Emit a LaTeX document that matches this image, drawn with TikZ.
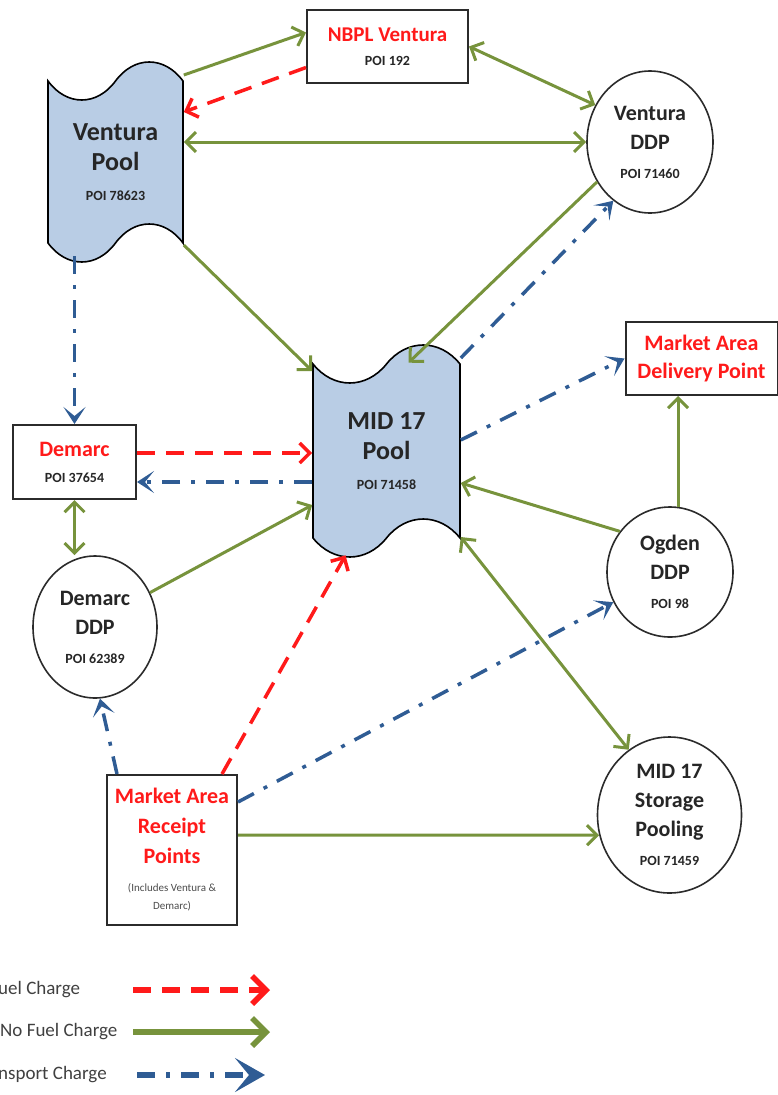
\documentclass[tikz,border=0pt]{standalone}
\usepackage{fontspec}
\setmainfont{Carlito}
\usetikzlibrary{shapes.symbols,shapes.geometric,arrows.meta}
\definecolor{nofuel}{HTML}{77933C}
\definecolor{fuel}{HTML}{FF1A1A}
\definecolor{transport}{HTML}{2F5C94}
\definecolor{poolfill}{HTML}{B9CDE5}
\definecolor{outline}{HTML}{2B2B2B}
\definecolor{legendtext}{HTML}{404040}
\newcommand{\poi}[1]{{\fontsize{14}{16}\selectfont\color{black!85}POI #1}}
\tikzset{
    pool-tape/.style = {draw=black, fill=poolfill, line width=1.6pt, tape, tape bend height=38pt, align=center, font=\fontsize{26}{30}\selectfont\bfseries, text=black!85},
    point-box/.style = {draw=outline, fill=white, line width=2pt, rectangle, align=center, font=\fontsize{22}{28}\selectfont\bfseries, text=fuel},
    ddp-circle/.style = {draw=outline, fill=white, line width=1.6pt, ellipse, inner sep=0pt, align=center, font=\fontsize{22}{29}\selectfont\bfseries, text=black!85},
    legend-text/.style = {anchor=west, inner sep=0pt, text=legendtext, font=\fontsize{19}{22}\selectfont},
    fuel-arrow/.style = {draw=fuel, line width=3.5pt, dash pattern=on 18pt off 11pt, >={Straight Barb[length=10pt,width=20pt]}, ->},
    nofuel-arrow/.style = {draw=nofuel, line width=3pt, >={Straight Barb[length=10pt,width=20pt]}, ->},
    transport-arrow/.style = {draw=transport, line width=3.5pt, dash pattern=on 18pt off 11pt on 4pt off 11pt, >={Stealth[length=17pt,width=22pt,inset=9pt]}, ->},
}

\begin{document}
\begin{tikzpicture}[x=1pt,y=-1pt]
\useasboundingbox (0,0) rectangle (778,1095);

% pools
\node[pool-tape, minimum width=135pt, minimum height=200pt] (vpool) at (115.5,162) {Ventura\\Pool\\\poi{78623}};
\node[pool-tape, minimum width=147pt, minimum height=212pt] (mpool) at (386.5,451) {MID 17\\Pool\\\poi{71458}};

% points
\node[point-box, minimum width=161pt, minimum height=73pt, font=\fontsize{21}{24}\selectfont\bfseries] (nbpl) at (387.5,46.5) {NBPL Ventura\\\poi{192}};
\node[point-box, minimum width=152pt, minimum height=73pt] (madp) at (701.5,358.5) {Market Area\\Delivery Point};
\node[point-box, minimum width=123pt, minimum height=74pt, font=\fontsize{22}{26}\selectfont\bfseries] (demarc) at (74.5,462) {Demarc\\\poi{37654}};
\node[point-box, minimum width=130pt, minimum height=150pt, font=\fontsize{22}{30}\selectfont\bfseries] (rcpt) at (172,850) {Market Area\\Receipt\\Points\\[-2pt]{\fontsize{11}{13}\selectfont\mdseries\color{black!70}(Includes Ventura \&}\\[-12pt]{\fontsize{11}{13}\selectfont\mdseries\color{black!70}Demarc)}};

% delivery points
\node[ddp-circle, minimum width=126pt, minimum height=142pt] (vddp) at (650,142) {Ventura\\DDP\\\poi{71460}};
\node[ddp-circle, minimum width=124pt, minimum height=142pt] (dddp) at (95,627) {Demarc\\DDP\\\poi{62389}};
\node[ddp-circle, minimum width=126pt, minimum height=130pt] (oddp) at (670,572) {Ogden\\DDP\\\poi{98}};
\node[ddp-circle, minimum width=144pt, minimum height=156pt] (stor) at (669.5,815) {MID 17\\Storage\\Pooling\\\poi{71459}};

% flows
\draw[nofuel-arrow] ([yshift=87pt]vpool.east) -- ([yshift=14pt]nbpl.west);
\draw[fuel-arrow] ([yshift=-21pt]nbpl.west) -- ([yshift=50pt]vpool.east);
\draw[nofuel-arrow, <->] (nbpl.east) -- (vddp.146);
\draw[nofuel-arrow, <->] ([yshift=20pt]vpool.east) -- (vddp.180);
\draw[nofuel-arrow] ([yshift=-83pt]vpool.east) -- ([yshift=80pt]mpool.west);
\draw[nofuel-arrow] (vddp.217) -- ([xshift=22pt]mpool.north);
\draw[transport-arrow] ([yshift=93pt]mpool.east) -- (vddp.238);
\draw[transport-arrow] ([yshift=-12pt]demarc.north |- vpool.south) -- (demarc.north);
\draw[fuel-arrow] ([yshift=9pt]demarc.east) -- ([yshift=-2pt]mpool.west);
\draw[transport-arrow] ([yshift=-31pt]mpool.west) -- ([yshift=-20pt]demarc.east);
\draw[nofuel-arrow, <->] (demarc.south) -- (dddp.north -| demarc.south);
\draw[nofuel-arrow] (dddp.32) -- ([yshift=-54pt]mpool.west);
\draw[transport-arrow] ([yshift=11pt]mpool.east) -- (madp.west);
\draw[nofuel-arrow] (oddp.83) -- (oddp.83 |- madp.south);
\draw[nofuel-arrow] (oddp.141) -- ([yshift=-32pt]mpool.east);
\draw[nofuel-arrow, <->] ([yshift=-86pt]mpool.east) -- (stor.122);
\draw[transport-arrow] ([xshift=-55pt]rcpt.north) -- (dddp.274);
\draw[fuel-arrow] ([xshift=50pt]rcpt.north) -- ([xshift=-41pt,yshift=-16pt]mpool.south);
\draw[transport-arrow] ([yshift=48pt]rcpt.east) -- (oddp.208);
\draw[nofuel-arrow] ([yshift=15pt]rcpt.east) -- (stor.196);

% legend
\node[legend-text] (lgfuel) at (-2,990) {uel Charge};
\node[legend-text] (lgnofuel) at (0,1032) {No Fuel Charge};
\node[legend-text] (lgtransport) at (-2,1075) {nsport Charge};
\coordinate (fuelA) at (133,990);
\coordinate (fuelB) at (270,990);
\coordinate (nofuelA) at (133,1032);
\coordinate (nofuelB) at (270,1032);
\coordinate (transportA) at (137,1075);
\coordinate (transportB) at (265,1075);
\draw[fuel-arrow, line width=5.5pt, >={Straight Barb[length=14pt,width=28pt]}] (fuelA) -- (fuelB);
\draw[nofuel-arrow, line width=5.5pt, >={Straight Barb[length=14pt,width=28pt]}] (nofuelA) -- (nofuelB);
\draw[transport-arrow, line width=5.5pt, >={Stealth[length=30pt,width=34pt,inset=14pt]}] (transportA) -- (transportB);
\end{tikzpicture}
\end{document}
